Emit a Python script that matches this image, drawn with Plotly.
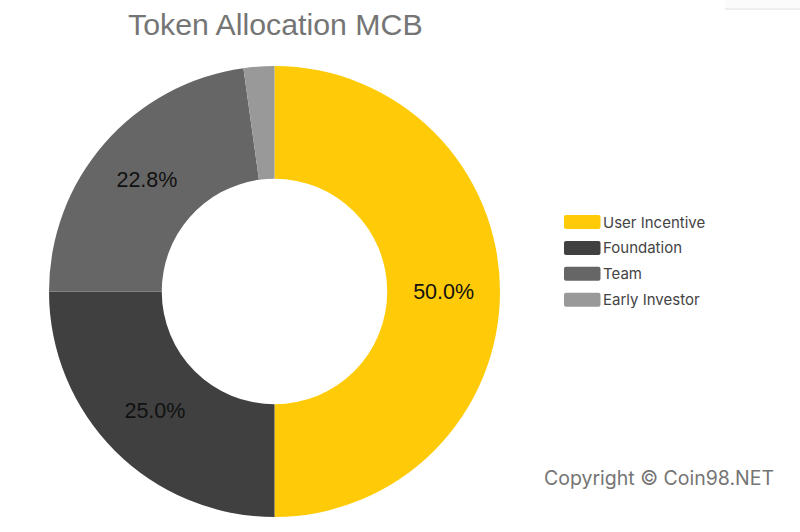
import plotly.graph_objects as go

labels = ["User Incentive", "Foundation", "Team", "Early Investor"]
values = [50.0, 25.0, 22.8, 2.2]
colors = ["#FFCB08", "#404040", "#666666", "#999999"]
texts = ["50.0%", "25.0%", "22.8%", ""]
title = "Token Allocation MCB"
copyright_text = "Copyright © Coin98.NET"

fig = go.Figure(go.Pie(
    labels=labels, values=values, hole=0.5, sort=False, direction="clockwise",
    rotation=0, marker=dict(colors=colors, line=dict(width=0)),
    text=texts, textinfo="text", textposition="inside", insidetextorientation="horizontal",
    textfont=dict(family="Liberation Sans", size=21.5, color="#111111"),
    showlegend=False, domain=dict(x=[49/800, 500/800], y=[1-517/532, 1-66/532]),
))
fig.update_layout(
    width=800, height=532, margin=dict(l=0, r=0, t=0, b=0),
    paper_bgcolor="white", plot_bgcolor="white",
    xaxis=dict(visible=False, range=[0, 800], domain=[0, 1]),
    yaxis=dict(visible=False, range=[532, 0], domain=[0, 1]),
)
fig.add_annotation(text=title, xref="paper", yref="paper", x=275/800, y=1-24/532,
                   showarrow=False, xanchor="center", yanchor="middle",
                   font=dict(family="Liberation Sans", size=30.3, color="#757575"))
fig.add_annotation(text=copyright_text, xref="paper", yref="paper", x=659/800, y=1-478/532,
                   showarrow=False, xanchor="center", yanchor="middle",
                   font=dict(family="Inter", size=19.5, color="#757575"))
# faint strip in the top right corner of the page
fig.add_shape(type="rect", xref="paper", yref="paper", x0=725/800, x1=1, y0=1-8/532, y1=1,
              fillcolor="#FBFBFB", line=dict(width=0))
fig.add_shape(type="line", xref="paper", yref="paper", x0=725/800, x1=1, y0=1-9/532, y1=1-9/532,
              line=dict(color="#DDDDDD", width=1))


def rounded(x0, x1, y0, y1, r):
    return (f"M {x0+r} {y0} L {x1-r} {y0} Q {x1} {y0} {x1} {y0+r} L {x1} {y1-r} Q {x1} {y1} {x1-r} {y1} "
            f"L {x0+r} {y1} Q {x0} {y1} {x0} {y1-r} L {x0} {y0+r} Q {x0} {y0} {x0+r} {y0} Z")


for i, (lab, col) in enumerate(zip(labels, colors)):
    yc = 222 + i * 25.9
    fig.add_shape(type="path", xref="x", yref="y", path=rounded(564, 600.5, yc-7, yc+7, 2),
                  fillcolor=col, line=dict(width=0))
    fig.add_annotation(text=lab, xref="paper", yref="paper", x=601/800, y=1-yc/532,
                       showarrow=False, xanchor="left", yanchor="middle",
                       font=dict(family="Inter", size=15, color="#444444"))
fig.write_html("out.html", config=dict(displayModeBar=False),
               post_script="document.body.style.margin='0';")
